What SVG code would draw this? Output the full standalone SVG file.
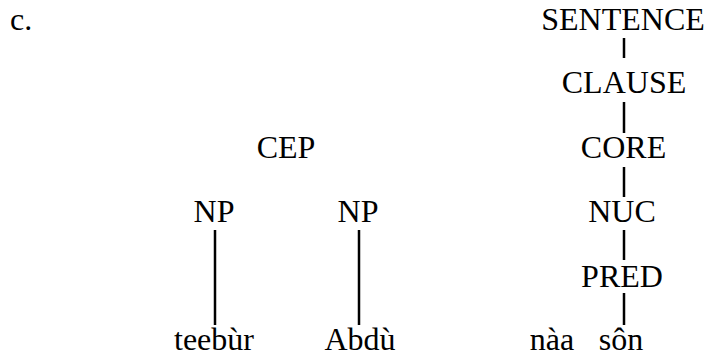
<svg xmlns="http://www.w3.org/2000/svg" width="705" height="356" viewBox="0 0 705 356">
  <style>
    text { font-family: "Liberation Serif", serif; font-size: 32px; fill: #000; text-anchor: middle; }
    .conn line { stroke: #000; stroke-width: 2.5; }
  </style>
  <rect width="705" height="356" fill="#fff"/>
  <text x="10" y="30" style="text-anchor:start">c.</text>

  <g id="sentence"><text x="623" y="30">SENTENCE</text></g>
  <g id="clause"><text x="624" y="93">CLAUSE</text></g>
  <g id="core"><text x="623.5" y="158">CORE</text></g>
  <g id="nuc"><text x="622" y="222">NUC</text></g>
  <g id="pred"><text x="622" y="287">PRED</text></g>
  <g id="cep"><text x="286" y="158">CEP</text></g>
  <g id="np1"><text x="214" y="222">NP</text></g>
  <g id="np2"><text x="358" y="222">NP</text></g>
  <g id="w-teebur"><text x="214" y="350">teebùr</text></g>
  <g id="w-abdu"><text x="360" y="350">Abdù</text></g>
  <g id="w-naa"><text x="552" y="350">nàa</text></g>
  <g id="w-son"><text x="621" y="350">sôn</text></g>

  <g class="conn" id="connectors">
    <line x1="624" y1="38" x2="624" y2="58"/>
    <line x1="624" y1="102" x2="624" y2="133"/>
    <line x1="624" y1="167" x2="624" y2="197"/>
    <line x1="624" y1="230" x2="624" y2="260"/>
    <line x1="624" y1="293" x2="624" y2="325"/>
    <line x1="215" y1="230" x2="215" y2="325"/>
    <line x1="359" y1="230" x2="359" y2="325"/>
  </g>
</svg>
